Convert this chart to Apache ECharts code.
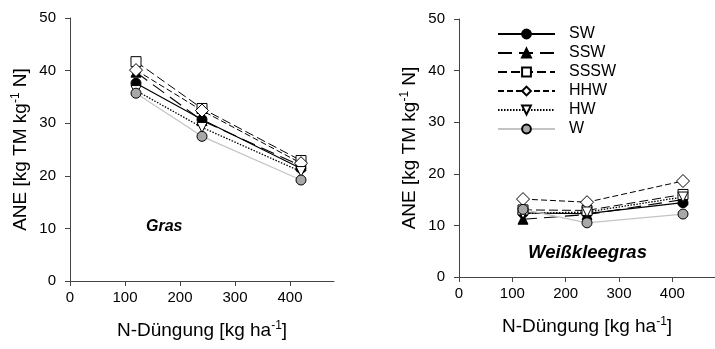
<!DOCTYPE html>
<html>
<head>
<meta charset="utf-8">
<script src="https://cdn.jsdelivr.net/npm/echarts@6/dist/echarts.min.js"></script>
<style>
  html, body { margin: 0; padding: 0; background: #fff; }
  #chart { width: 715px; height: 349px; }
</style>
</head>
<body>
<div id="chart"></div>
<script>
// N rates (kg N per ha) on the x axis
const nRates = [120, 240, 420];
const xTicks = [0, 100, 200, 300, 400];

// Treatment names (legend order)
const treatments = ['SW', 'SSW', 'SSSW', 'HHW', 'HW', 'W'];

// ANE, grass stands
const grasSW   = [37.6, 30.7, 21.4];
const grasSSW  = [39.7, 30.5, 21.9];
const grasSSSW = [41.7, 32.8, 22.9];
const grasHHW  = [40.1, 32.4, 22.4];
const grasHW   = [36.2, 29.2, 20.8];
const grasW    = [35.7, 27.5, 19.2];

// ANE, white clover–grass stands
const wkgSW   = [12.4, 12.3, 14.4];
const wkgSSW  = [11.2, 12.1, 15.0];
const wkgSSSW = [13.0, 12.9, 16.0];
const wkgHHW  = [15.1, 14.5, 18.6];
const wkgHW   = [12.3, 12.6, 15.5];
const wkgW    = [13.1, 10.5, 12.2];

const grasData = [grasSW, grasSSW, grasSSSW, grasHHW, grasHW, grasW];
const wkgData  = [wkgSW, wkgSSW, wkgSSSW, wkgHHW, wkgHW, wkgW];

// Line and marker look of each treatment
const looks = {
  SW:   { dash: 'solid',  color: '#000', symbol: 'circle', fill: '#000', size: 10, width: 1.2 },
  SSW:  { dash: [14, 7],  color: '#000', symbol: 'triangle', fill: '#000', size: 10, width: 1.1 },
  SSSW: { dash: [9, 4],   color: '#000', symbol: 'rect', fill: '#fff', size: 10, width: 1 },
  HHW:  { dash: [6, 3],   color: '#000', symbol: 'diamond', fill: '#fff', size: 13, width: 1 },
  HW:   { dash: [1.5, 1.5], color: '#000', symbol: 'path://M0,0 L10,0 L5,10 Z', fill: '#fff', size: 10, width: 1.3 },
  W:    { dash: 'solid',  color: '#c4c4c4', symbol: 'circle', fill: '#a8a8a8', size: 10, width: 1.2 }
};

const font = '"Liberation Sans", Arial, sans-serif';

function buildSeries(dataSets, axisIndex) {
  return treatments.map((name, i) => {
    const lk = looks[name];
    return {
      name: name,
      type: 'line',
      xAxisIndex: axisIndex,
      yAxisIndex: axisIndex,
      data: nRates.map((x, j) => [x, dataSets[i][j]]),
      symbol: lk.symbol,
      symbolSize: lk.size,
      showAllSymbol: true,
      lineStyle: { color: lk.color, width: lk.width, type: lk.dash },
      itemStyle: { color: lk.fill, borderColor: '#000', borderWidth: 1 },
      emphasis: { disabled: true },
      animation: false
    };
  });
}

const supRich = {
  s: { fontSize: 12, fontFamily: font, color: '#000', verticalAlign: 'top', lineHeight: 12 }
};

function xAxisDef(gridIndex) {
  return {
    gridIndex: gridIndex,
    type: 'value',
    min: 0, max: 480, interval: 100,
    name: 'N-Düngung [kg ha{s|-1}]',
    nameLocation: 'middle',
    nameGap: 39,
    nameTextStyle: { fontSize: 19, fontFamily: font, color: '#000', lineHeight: 22, rich: supRich },
    axisLine: { show: true, onZero: false, lineStyle: { color: '#444', width: 1 } },
    axisTick: { show: true, inside: false, length: 5, lineStyle: { color: '#444' }, customValues: xTicks },
    axisLabel: { fontSize: 15, fontFamily: font, color: '#000', margin: 9, customValues: xTicks },
    splitLine: { show: false }
  };
}

function yAxisDef(gridIndex) {
  return {
    gridIndex: gridIndex,
    type: 'value',
    min: 0, max: 50, interval: 10,
    name: 'ANE [kg TM kg{s|-1} N]',
    nameLocation: 'middle',
    nameGap: 38,
    nameRotate: 90,
    nameTextStyle: { fontSize: 19, fontFamily: font, color: '#000', lineHeight: 22, rich: supRich },
    axisLine: { show: true, lineStyle: { color: '#444', width: 1 } },
    axisTick: { show: true, inside: false, length: 5, lineStyle: { color: '#444' } },
    axisLabel: { fontSize: 15, fontFamily: font, color: '#000', margin: 14 },
    splitLine: { show: false }
  };
}

const chart = echarts.init(document.getElementById('chart'), null, { renderer: 'canvas' });

chart.setOption({
  backgroundColor: '#fff',
  animation: false,
  grid: [
    { left: 70, top: 18, width: 264, height: 263 },
    { left: 459, top: 19, width: 262, height: 258 }
  ],
  xAxis: [xAxisDef(0), xAxisDef(1)],
  yAxis: [yAxisDef(0), yAxisDef(1)],
  legend: {
    data: treatments,
    orient: 'vertical',
    left: 497,
    top: 26,
    padding: 0,
    itemWidth: 57,
    itemHeight: 11,
    itemGap: 3,
    textStyle: { fontSize: 16, lineHeight: 16, fontFamily: font, color: '#000', padding: [0, 0, 0, 9] },
    selectedMode: false
  },
  graphic: [
    { type: 'text', left: 146, top: 219, style: { text: 'Gras', fontSize: 16, fontWeight: 'bold', fontStyle: 'italic', fontFamily: font, fill: '#000' } },
    { type: 'text', left: 528, top: 243, style: { text: 'Weißkleegras', fontSize: 18.5, fontWeight: 'bold', fontStyle: 'italic', fontFamily: font, fill: '#000' } }
  ],
  series: buildSeries(grasData, 0).concat(buildSeries(wkgData, 1))
});
</script>
</body>
</html>
